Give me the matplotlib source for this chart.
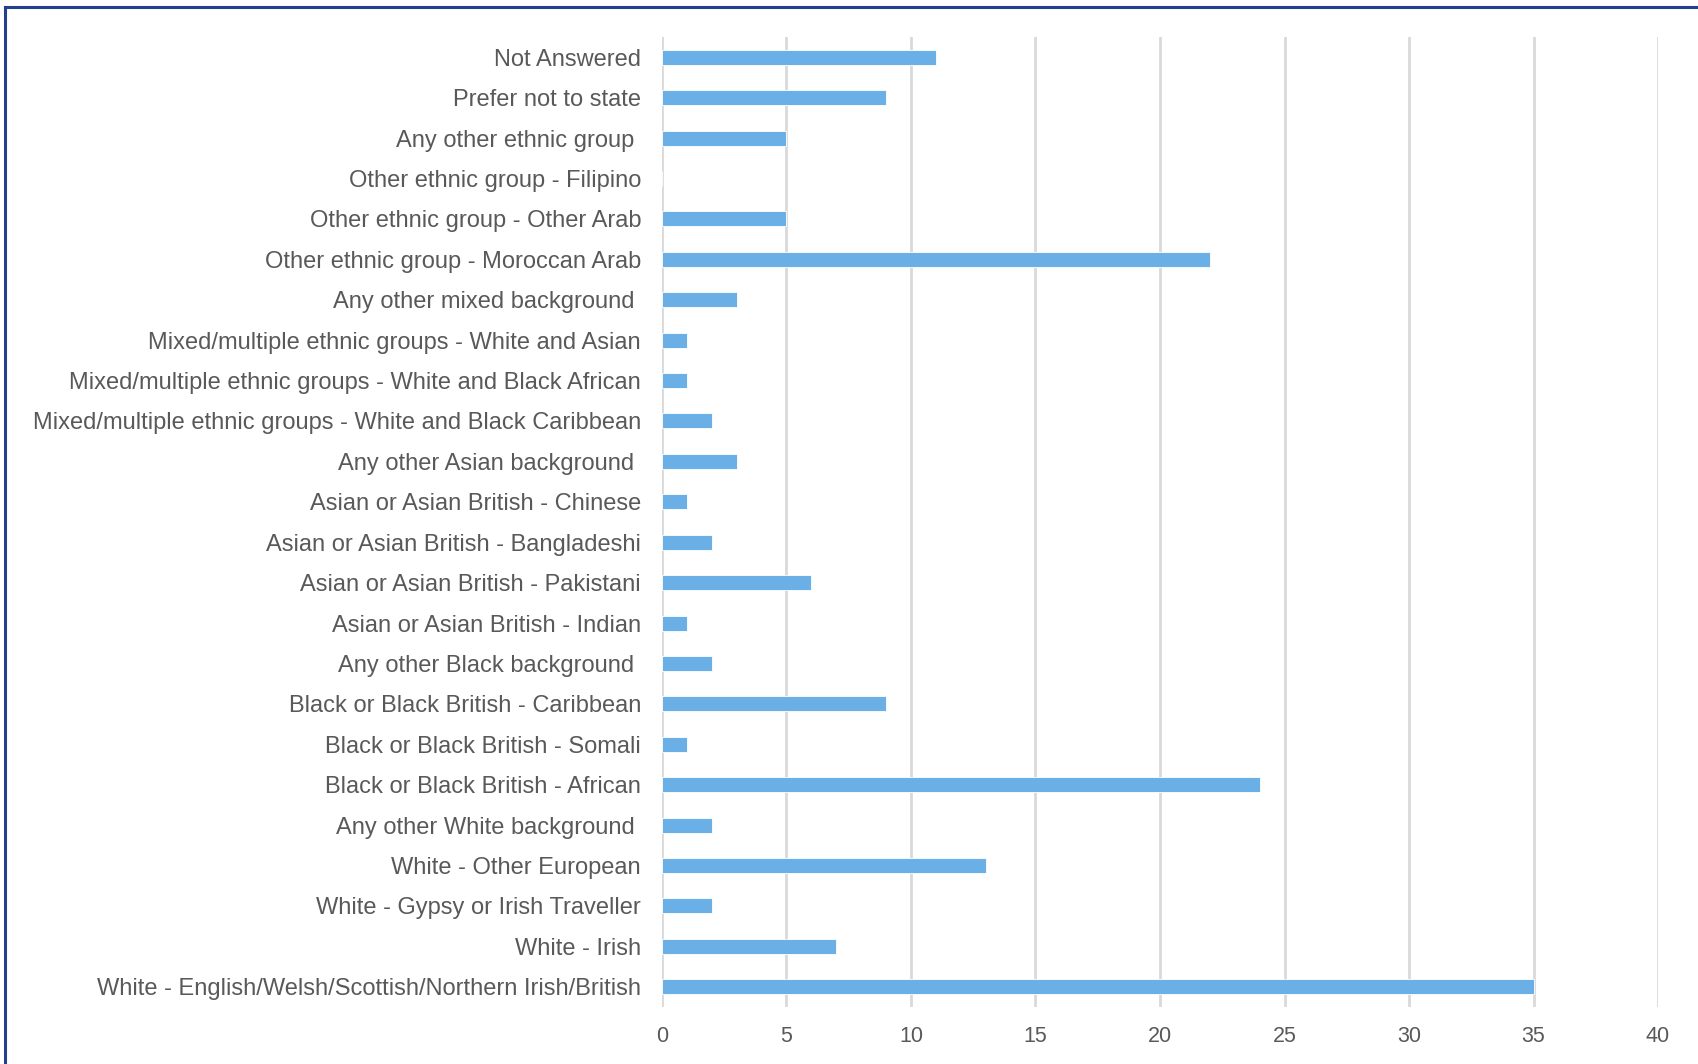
import matplotlib.pyplot as plt
from matplotlib.lines import Line2D

# categories listed bottom -> top, as drawn on the chart
categories = [
    "White - English/Welsh/Scottish/Northern Irish/British",
    "White - Irish",
    "White - Gypsy or Irish Traveller",
    "White - Other European",
    "Any other White background ",
    "Black or Black British - African",
    "Black or Black British - Somali",
    "Black or Black British - Caribbean",
    "Any other Black background ",
    "Asian or Asian British - Indian",
    "Asian or Asian British - Pakistani",
    "Asian or Asian British - Bangladeshi",
    "Asian or Asian British - Chinese",
    "Any other Asian background ",
    "Mixed/multiple ethnic groups - White and Black Caribbean",
    "Mixed/multiple ethnic groups - White and Black African",
    "Mixed/multiple ethnic groups - White and Asian",
    "Any other mixed background ",
    "Other ethnic group - Moroccan Arab",
    "Other ethnic group - Other Arab",
    "Other ethnic group - Filipino",
    "Any other ethnic group ",
    "Prefer not to state",
    "Not Answered",
]
counts = [35, 7, 2, 13, 2, 24, 1, 9, 2, 1, 6, 2, 1, 3, 2, 1, 1, 3, 22, 5, 0, 5, 9, 11]
x_ticks = [0, 5, 10, 15, 20, 25, 30, 35, 40]

plt.rcParams['font.family'] = ['Liberation Sans', 'DejaVu Sans']
text_col = '#595959'

fig = plt.figure(figsize=(16.99, 10.64), dpi=100)
ax = fig.add_axes([0.3896, 0.0536, 0.5863, 0.9116])

ax.barh(range(len(categories)), counts, height=0.37, color='#6AB0E6',
        edgecolor='white', linewidth=0.6, zorder=3)

ax.set_xlim(0, 40)
ax.set_ylim(-0.5, len(categories) - 0.5)
ax.set_xticks(x_ticks)
ax.set_yticks(range(len(categories)))
ax.set_yticklabels(categories)
ax.tick_params(axis='both', length=0, colors=text_col)
ax.tick_params(axis='y', pad=15, labelsize=17)
ax.tick_params(axis='x', pad=14, labelsize=15.5)

ax.grid(axis='x', color='#D9D9D9', linewidth=2, zorder=0)
for s in ax.spines.values():
    s.set_visible(False)

# dark blue frame around the chart (top and left edges visible)
fig.add_artist(Line2D([5 / 1699, 1], [1 - 7 / 1064, 1 - 7 / 1064],
                      transform=fig.transFigure, color='#23408E', linewidth=2.2))
fig.add_artist(Line2D([5 / 1699, 5 / 1699], [0, 1 - 7 / 1064],
                      transform=fig.transFigure, color='#23408E', linewidth=2.2))

fig.savefig('out.png', dpi=100)
